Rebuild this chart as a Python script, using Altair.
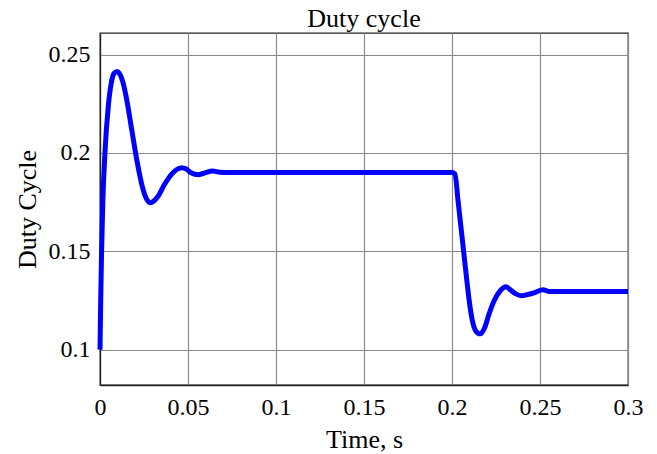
import altair as alt
import pandas as pd

# Duty cycle response: start-up transient, steady state, then load step at t = 0.2 s
time_s = [
    0.0, 0.0004, 0.0009, 0.0016, 0.0028, 0.0047, 0.0065, 0.008, 0.0097, 0.011,
    0.013, 0.015, 0.018, 0.021, 0.024, 0.0265, 0.0284, 0.030, 0.033, 0.037,
    0.041, 0.044, 0.0466, 0.049, 0.052, 0.0557, 0.059, 0.064, 0.068, 0.075,
    0.10, 0.15, 0.20, 0.2017, 0.2034, 0.2045, 0.2055, 0.2066, 0.2077, 0.2087,
    0.2097, 0.2115, 0.2135, 0.216, 0.2185, 0.221, 0.224, 0.227, 0.2307, 0.233,
    0.236, 0.2395, 0.243, 0.247, 0.2517, 0.255, 0.26, 0.28, 0.30,
]
duty = [
    0.100, 0.125, 0.150, 0.175, 0.200, 0.2236, 0.236, 0.2405, 0.2414, 0.2405,
    0.236, 0.228, 0.212, 0.196, 0.183, 0.1765, 0.1747, 0.1752, 0.178, 0.1845,
    0.1895, 0.1918, 0.1925, 0.1918, 0.1898, 0.1889, 0.1897, 0.1908, 0.1902, 0.1900,
    0.1900, 0.1900, 0.1900, 0.1893, 0.176, 0.167, 0.159, 0.150, 0.141, 0.133,
    0.1254, 0.115, 0.1095, 0.108, 0.111, 0.118, 0.125, 0.1295, 0.132, 0.1305,
    0.1285, 0.1274, 0.128, 0.129, 0.1305, 0.1296, 0.1295, 0.1295, 0.1295,
]

x_ticks = [0, 0.05, 0.1, 0.15, 0.2, 0.25, 0.3]
y_ticks = [0.1, 0.15, 0.2, 0.25]

df = pd.DataFrame({"t": time_s, "d": duty})

FONT = "Liberation Serif"

chart = (
    alt.Chart(df, title=alt.Title("Duty cycle", fontSize=26, font=FONT,
                                  fontWeight="normal", color="black", offset=1))
    .mark_line(color="#0000ff", strokeWidth=5, interpolate="monotone")
    .encode(
        x=alt.X("t:Q", title="Time, s",
                scale=alt.Scale(domain=[0, 0.3], nice=False, zero=False),
                axis=alt.Axis(values=x_ticks, format="~g", labelFlush=False)),
        y=alt.Y("d:Q", title="Duty Cycle",
                scale=alt.Scale(domain=[0.082, 0.261], nice=False, zero=False),
                axis=alt.Axis(values=y_ticks, format="~g", labelFlush=False)),
    )
    .properties(
        width=528,
        height=352,
        autosize=alt.AutoSizeParams(type="none"),
        padding={"left": 100, "top": 33, "right": 29, "bottom": 69},
    )
    .configure_view(stroke="#222222", strokeWidth=1.3)
    .configure_axis(
        grid=True,
        gridColor="#8a8a8a",
        gridWidth=1.2,
        domainColor="#222222",
        domainWidth=1.3,
        ticks=False,
        labelFont=FONT,
        labelFontSize=24,
        labelColor="black",
        titleFont=FONT,
        titleFontSize=26,
        titleFontWeight="normal",
        titleColor="black",
    )
    .configure_axisX(labelPadding=10, titlePadding=7)
    .configure_axisY(labelPadding=10, titlePadding=8)
)

chart.save("out.html", embed_options={"renderer": "svg", "actions": False})
